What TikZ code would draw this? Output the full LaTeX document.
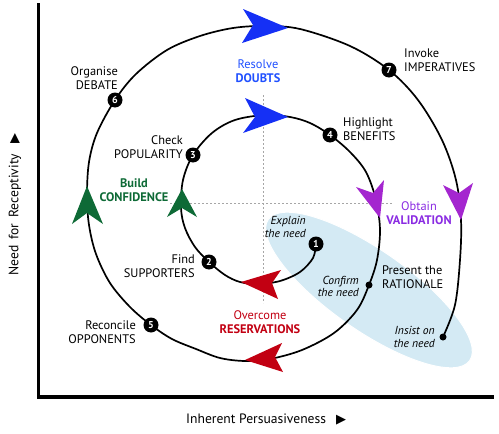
\documentclass[tikz,border=0pt]{standalone}
\usepackage{fontspec}
\setmainfont{PT Sans}
\newfontfamily\symfont{DejaVu Sans}
\usetikzlibrary{shapes.geometric}
\definecolor{cblue}{HTML}{1530F5}
\definecolor{tblue}{HTML}{2050FF}
\definecolor{cgreen}{HTML}{0E6A36}
\definecolor{cpurple}{HTML}{A426CF}
\definecolor{tpurple}{HTML}{8A2BE2}
\definecolor{cred}{HTML}{C20012}
\definecolor{ellc}{HTML}{D4EAF4}
\begin{document}
\begin{tikzpicture}[x=1pt,y=-1pt,
  lbl/.style={font=\fontsize{12.4}{14}\selectfont, inner sep=0pt},
  lr/.style={lbl, anchor=east, align=right},
  ll/.style={lbl, anchor=west, align=left},
  lc/.style={lbl, anchor=center, align=center},
  it/.style={font=\fontsize{11.6}{12.6}\selectfont\itshape},
  axl/.style={font=\fontsize{13.6}{14}\selectfont, inner sep=0pt},
  numc/.style={circle, fill=black, text=white, minimum size=15pt, inner sep=0pt,
     font=\bfseries\fontsize{10}{10}\selectfont},
  dotc/.style={circle, fill=black, minimum size=7pt, inner sep=0pt},
  spiral/.style={line width=1.7pt, line join=round},
  guide/.style={gray!70, line width=0.9pt, dash pattern=on 2pt off 2pt},
  axis/.style={line width=3.8pt}
]
\useasboundingbox (0,0) rectangle (499,434);

% ellipse
\node[ellipse, fill=ellc, draw=white, line width=1pt, minimum width=246pt, minimum height=80pt, rotate=-35] (ell) at (369,290) {};

% guides
\coordinate (gv1) at (263,95);
\coordinate (gv2) at (263,303);
\coordinate (gh1) at (170,203);
\coordinate (gh2) at (392,203);
\draw[guide] (gv1) -- (gv2);
\draw[guide] (gh1) -- (gh2);

% axes
\coordinate (ax0) at (38.5,397);
\coordinate (axy) at (38.5,5);
\coordinate (axx) at (492,397);
\draw[axis, line cap=rect] (axy) -- (ax0) -- (axx);

% spiral coordinates
\coordinate (p1) at (316,244);
\coordinate (p2) at (209,262);
\coordinate (p3) at (193,155);
\coordinate (p4) at (330,135);
\coordinate (pc) at (369,285);
\coordinate (p5) at (151,325);
\coordinate (p6) at (115,100);
\coordinate (p7) at (389,70);
\coordinate (pi) at (443,337);

\draw[spiral] plot[smooth, tension=0.55] coordinates {
 (p1) (313,258) (300,272) (280,281) (258,284) (240,282) (225,275) (p2)
 (195,247) (185,228) (181,208) (183,180) (p3) (212,133) (235,120) (265,115)
 (290,117) (310,123) (p4) (350,152) (366,172) (376,200) (380,230) (377,260)
 (pc) (357,310) (334,333) (302,350) (270,359) (245,361) (220,358) (196,349)
 (172,339) (p5) (130,307) (110,283) (96,254) (89,225) (87,195) (89,162)
 (97,133) (p6) (136,74) (167,50) (200,36) (233,28) (265,26) (300,29)
 (350,46) (p7) (418,100) (442,140) (456,180) (461,220) (460,260) (455,305) (pi)};

% arrowheads
\fill[cblue] (288,28) -- (243,9) -- (253,25) -- (242,43) -- cycle;
\fill[cblue] (288,117) -- (245,98) -- (255,117) -- (243,133) -- cycle;
\fill[cgreen] (87,186) -- (72,224) -- (87,213) -- (103,224) -- cycle;
\fill[cgreen] (182,189) -- (167,217) -- (182,208) -- (197,217) -- cycle;
\fill[cpurple] (380,218) -- (356,187) -- (373,193) -- (384,180) -- cycle;
\fill[cpurple] (461,220) -- (443,185) -- (459,193) -- (473,183) -- cycle;
\fill[cred] (241,282) -- (281,270) -- (272,283) -- (278,299) -- cycle;
\fill[cred] (245,360) -- (282,343) -- (275,357) -- (283,372) -- cycle;

% numbered points
\node[numc] (n1) at (p1) {1};
\node[numc] (n2) at (p2) {2};
\node[numc] (n3) at (p3) {3};
\node[numc] (n4) at (p4) {4};
\node[numc] (n5) at (p5) {5};
\node[numc] (n6) at (p6) {6};
\node[numc] (n7) at (p7) {7};
\node[dotc] (dc) at (pc) {};
\node[dotc] (di) at (pi) {};

% labels
\node[lr] (t6) at (118,78) {Organise\\DEBATE};
\node[ll] (t7) at (404,60.5) {Invoke\\IMPERATIVES};
\node[ll] (t4) at (343,129.5) {Highlight\\BENEFITS};
\node[lr] (t3) at (183,147) {Check\\POPULARITY};
\node[lr] (t2) at (195,266) {Find\\SUPPORTERS};
\node[lr] (t5) at (136,332.5) {Reconcile\\OPPONENTS};
\node[ll] (tr) at (382,277) {Present the\\RATIONALE};
\node[lr, it] (te) at (306,227) {Explain\\the need};
\node[lr, it] (tc) at (359,286.5) {Confirm\\the need};
\node[lr, it] (tn) at (435,337) {Insist on\\the need};

\node[lc, text=tblue] (tb) at (258,71.5) {Resolve\\\textbf{DOUBTS}};
\node[lc, text=cgreen] (tg) at (134,190) {\textbf{Build}\\\textbf{CONFIDENCE}};
\node[lc, text=tpurple] (tp) at (419,213) {Obtain\\\textbf{VALIDATION}};
\node[lc, text=cred] (to) at (260,322) {Overcome\\\textbf{RESERVATIONS}};

% axis labels
\node[axl, anchor=west] (xl) at (186,419) {Inherent Persuasiveness\hspace{10pt}{\symfont\fontsize{13}{13}\selectfont ▶}};
\node[axl, anchor=west, rotate=90] (yl) at (15,276) {Need\hspace{6pt}for\hspace{6pt}Receptivity\hspace{10pt}{\symfont\fontsize{13}{13}\selectfont ▶}};
\end{tikzpicture}
\end{document}
